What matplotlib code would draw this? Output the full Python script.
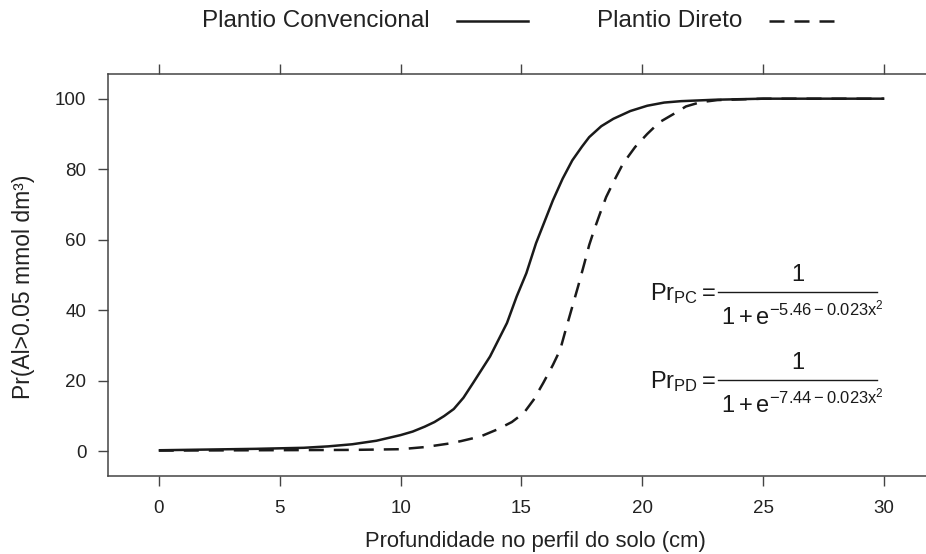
import matplotlib
matplotlib.use('Agg')
import matplotlib.pyplot as plt
from matplotlib.lines import Line2D

plt.rcParams['font.family'] = ['Liberation Sans', 'DejaVu Sans']
plt.rcParams['mathtext.fontset'] = 'custom'
plt.rcParams['mathtext.rm'] = 'Liberation Sans'
plt.rcParams['mathtext.it'] = 'Liberation Sans'
plt.rcParams['mathtext.sf'] = 'Liberation Sans'
plt.rcParams['lines.scale_dashes'] = False

# Plantio Convencional (solid curve)
depth_pc = [0, 2, 4, 6, 7, 8, 9, 10, 10.5, 11, 11.4, 11.8, 12.2, 12.6, 13, 13.7, 14.4, 14.8,
            15.2, 15.6, 16.3, 16.7, 17.1, 17.5, 17.8, 18.3, 18.8, 19.5, 20.2, 20.9, 21.6,
            23, 25, 30]
prob_pc = [0.3, 0.5, 0.7, 1.0, 1.4, 2.0, 3.0, 4.6, 5.6, 7.0, 8.3, 10.0, 12.0, 15.2, 19.4,
           26.9, 36.4, 43.9, 50.5, 59.0, 71.2, 77.3, 82.5, 86.4, 89.1, 92.2, 94.3, 96.5,
           98.0, 98.9, 99.3, 99.7, 100, 100]

# Plantio Direto (dashed curve)
depth_pd = [0, 4, 8, 10, 11, 12, 12.5, 13.3, 14, 14.6, 15.1, 15.5, 15.9, 16.3, 16.6, 16.85,
            17.1, 17.35, 17.6, 17.8, 18.0, 18.25, 18.5, 18.85, 19.2, 19.7, 20.2, 20.7, 21.3,
            21.8, 22.4, 23.1, 25, 30]
prob_pd = [0.2, 0.3, 0.4, 0.6, 1.2, 2.2, 2.9, 4.2, 6.2, 8.3, 10.9, 14.6, 19.4, 24.5, 28.8,
           35.0, 41.0, 47.0, 53.3, 58.5, 62.7, 67.5, 72.1, 77.0, 81.6, 86.3, 90.0, 93.3,
           95.7, 97.8, 99.0, 99.6, 100, 100]

x_ticks = [0, 5, 10, 15, 20, 25, 30]
y_ticks = [0, 20, 40, 60, 80, 100]
series_names = ['Plantio Convencional', 'Plantio Direto']
eq_names = [r'$\mathregular{Pr_{PC}=}$', r'$\mathregular{Pr_{PD}=}$']
eq_denoms = [r'$\mathregular{1+e^{-5.46-0.023x^2}}$', r'$\mathregular{1+e^{-7.44-0.023x^2}}$']

W, H = 926, 554
fig = plt.figure(figsize=(W / 100, H / 100), dpi=100)
ax = fig.add_axes([108 / W, (H - 476) / H, 827 / W, 402 / H])


def fx(px):
    return px / W


def fy(py):
    return 1 - py / H


ink = '#1a1a1a'
frame = '#444444'
txt = '#222222'
dash = (0, (10.8, 7.2))

ax.plot(depth_pc, prob_pc, color=ink, lw=1.8, solid_capstyle='butt')
ax.plot(depth_pd, prob_pd, color=ink, lw=1.8, linestyle=dash)

ax.set_xlim(-2.1, 32.1)
ax.set_ylim(-7, 107)
ax.set_xticks(x_ticks)
ax.set_yticks(y_ticks)
for s in ax.spines.values():
    s.set_color(frame)
    s.set_linewidth(1.1)
ax.tick_params(axis='both', direction='out', length=7.5, width=1.0, color=frame,
               labelsize=13.5, labelcolor=txt)
ax.tick_params(axis='x', top=True, labeltop=False, pad=10)
ax.tick_params(axis='y', right=False, pad=8)

# axis titles
fig.text(fx(535), fy(541), 'Profundidade no perfil do solo (cm)', fontsize=15.8, color=txt,
         ha='center', va='center')
fig.text(fx(24), fy(287), 'Pr(Al>0.05 mmol dm³)', fontsize=16.5, color=txt,
         ha='center', va='center', rotation=90)

# equations: name, fraction bar, numerator, denominator
for i, bar_y in enumerate([292, 380]):
    fig.text(fx(650), fy(bar_y + 2), eq_names[i], fontsize=17, color=ink, ha='left', va='center')
    fig.add_artist(Line2D([fx(718), fx(877)], [fy(bar_y), fy(bar_y)],
                          transform=fig.transFigure, color=ink, lw=1.0))
    fig.text(fx(798), fy(bar_y - 17), '1', fontsize=17, color=ink, ha='center', va='center')
    fig.text(fx(721), fy(bar_y + 33), eq_denoms[i], fontsize=17, color=ink,
             ha='left', va='baseline')

# legend on top
ly = fy(21)
fig.text(fx(430), ly, series_names[0], fontsize=17.5, color=txt, ha='right', va='center')
fig.add_artist(Line2D([fx(457), fx(528)], [ly, ly], transform=fig.transFigure,
                      color=ink, lw=1.8))
fig.text(fx(597), ly, series_names[1], fontsize=17.5, color=txt, ha='left', va='center')
fig.add_artist(Line2D([fx(769), fx(834)], [ly, ly], transform=fig.transFigure,
                      color=ink, lw=1.8, linestyle=dash))

fig.savefig('out.png', dpi=100)
